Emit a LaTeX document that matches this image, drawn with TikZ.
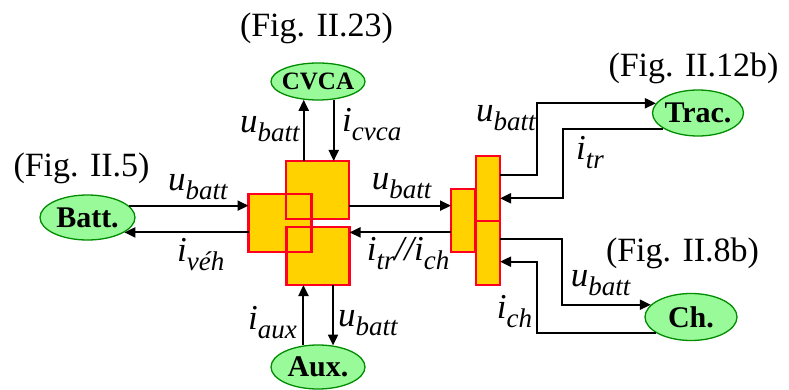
\documentclass[tikz,border=0pt]{standalone}
\usepackage{fontspec}
\setmainfont{Liberation Serif}
\usetikzlibrary{arrows.meta,shapes.geometric}
\definecolor{boxfill}{RGB}{255,210,0}
\definecolor{boxline}{RGB}{255,0,30}
\definecolor{ellfill}{RGB}{153,250,153}
\definecolor{ellline}{RGB}{0,140,0}
\newcommand\mylbl[2]{\textit{#1}\raisebox{-9pt}{\fontsize{27}{27}\selectfont\textit{#2}}}
\newcommand\mysub[1]{\raisebox{-9pt}{\fontsize{27}{27}\selectfont\textit{#1}}}
\begin{document}
\begin{tikzpicture}[x=1pt,y=-1pt,
  blk/.style={rectangle,fill=boxfill,inner sep=0pt,outer sep=0pt},
  ell/.style={ellipse,draw=ellline,fill=ellfill,line width=1.3pt,inner sep=0pt,
    font=\fontsize{30}{30}\selectfont\bfseries},
  arr/.style={line width=2pt,-{Triangle[length=11pt,width=10pt]}},
  lbl/.style={anchor=base west,inner sep=0pt,font=\fontsize{35}{40}\selectfont},
  figl/.style={anchor=base,inner sep=0pt,font=\fontsize{34}{40}\selectfont}]
\useasboundingbox (0,0) rectangle (789,390);
% blocks
\node[blk,minimum width=63pt,minimum height=58pt] (sqT) at (317.5,190) {};
\node[blk,minimum width=63pt,minimum height=58pt] (sqL) at (280,223) {};
\node[blk,minimum width=63pt,minimum height=58pt] (sqB) at (318,256) {};
\node[blk,minimum width=24pt,minimum height=63pt] (barL) at (463,220.5) {};
\node[blk,minimum width=24pt,minimum height=65pt] (barU) at (488,188.5) {};
\node[blk,minimum width=24pt,minimum height=64pt] (barD) at (488,253) {};
\foreach \n in {sqT,sqL,sqB,barL,barU,barD}
  \draw[boxline,line width=2.2pt] (\n.south west) rectangle (\n.north east);
% ellipses
\node[ell,minimum width=95pt,minimum height=45pt] (batt) at (87.5,217.5) {\makebox[0pt]{Batt.}};
\node[ell,minimum width=94pt,minimum height=37pt,font=\fontsize{25}{25}\selectfont\bfseries] (cvca) at (318,81.5) {\makebox[0pt]{CVCA}};
\node[ell,minimum width=94pt,minimum height=44pt] (aux) at (318,367) {\makebox[0pt]{Aux.}};
\node[ell,minimum width=91pt,minimum height=46pt] (trac) at (698,113) {\makebox[0pt]{Trac.}};
\node[ell,minimum width=92pt,minimum height=47pt] (ch) at (691,317) {\makebox[0pt]{Ch.}};
% helper coordinates
\coordinate (yU1) at (0,174.7);
\coordinate (yU2) at (0,198.3);
\coordinate (yD1) at (0,239.3);
\coordinate (yD2) at (0,261.7);
\coordinate (kU1) at (537,174.7);
\coordinate (kU2) at (563,198.3);
\coordinate (kD1) at (562,239.3);
\coordinate (kD2) at (537,261.7);
% connectors
\draw[arr] (batt.16) -- (batt.16 -| sqL.west);
\draw[arr] (batt.338 -| sqL.west) -- (batt.338);
\draw[arr] (cvca.232 |- sqT.north) -- (cvca.232);
\draw[arr] (cvca.311) -- (cvca.311 |- sqT.north);
\draw[arr] (aux.124) -- (aux.124 |- sqB.south);
\draw[arr] (aux.55 |- sqB.south) -- (aux.55);
\draw[arr] (sqT.east |- batt.16) -- (barL.west |- batt.16);
\draw[arr] (barL.west |- batt.338) -- (sqB.east |- batt.338);
\draw[arr] (barU.east |- yU1) -- (kU1) |- (trac.167);
\draw[arr] (trac.204) -| (kU2) -- (barU.east |- yU2);
\draw[arr] (barD.east |- yD1) -- (kD1) |- (ch.163);
\draw[arr] (ch.204) -| (kD2) -- (barD.east |- yD2);
% labels
\node[lbl] (l1) at (168,190) {\mylbl{u}{batt}};
\node[lbl] (l2) at (177,261.7) {\mylbl{i}{véh}};
\node[lbl] (l3) at (240,133) {\mylbl{u}{batt}};
\node[lbl] (l4) at (342,131.7) {\mylbl{i}{cvca}};
\node[lbl] (l5) at (248,329) {\mylbl{i}{aux}};
\node[lbl] (l6) at (338,326.7) {\mylbl{u}{batt}};
\node[lbl] (l7) at (371.7,189.3) {\mylbl{u}{batt}};
\node[lbl] (l8) at (366.7,260) {\textit{i}\mysub{tr}\textit{//i}\mysub{ch}};
\node[lbl] (l9) at (476,121.7) {\mylbl{u}{batt}};
\node[lbl] (l10) at (576,160) {\mylbl{i}{tr}};
\node[lbl] (l11) at (570.7,286.7) {\mylbl{u}{batt}};
\node[lbl] (l12) at (496.7,318) {\mylbl{i}{ch}};
\node[figl] (f1) at (316.5,37) {(Fig. II.23)};
\node[figl] (f2) at (693.5,76.7) {(Fig. II.12b)};
\node[figl] (f3) at (81.5,176.7) {(Fig. II.5)};
\node[figl] (f4) at (682.5,261.7) {(Fig. II.8b)};
\end{tikzpicture}
\end{document}
